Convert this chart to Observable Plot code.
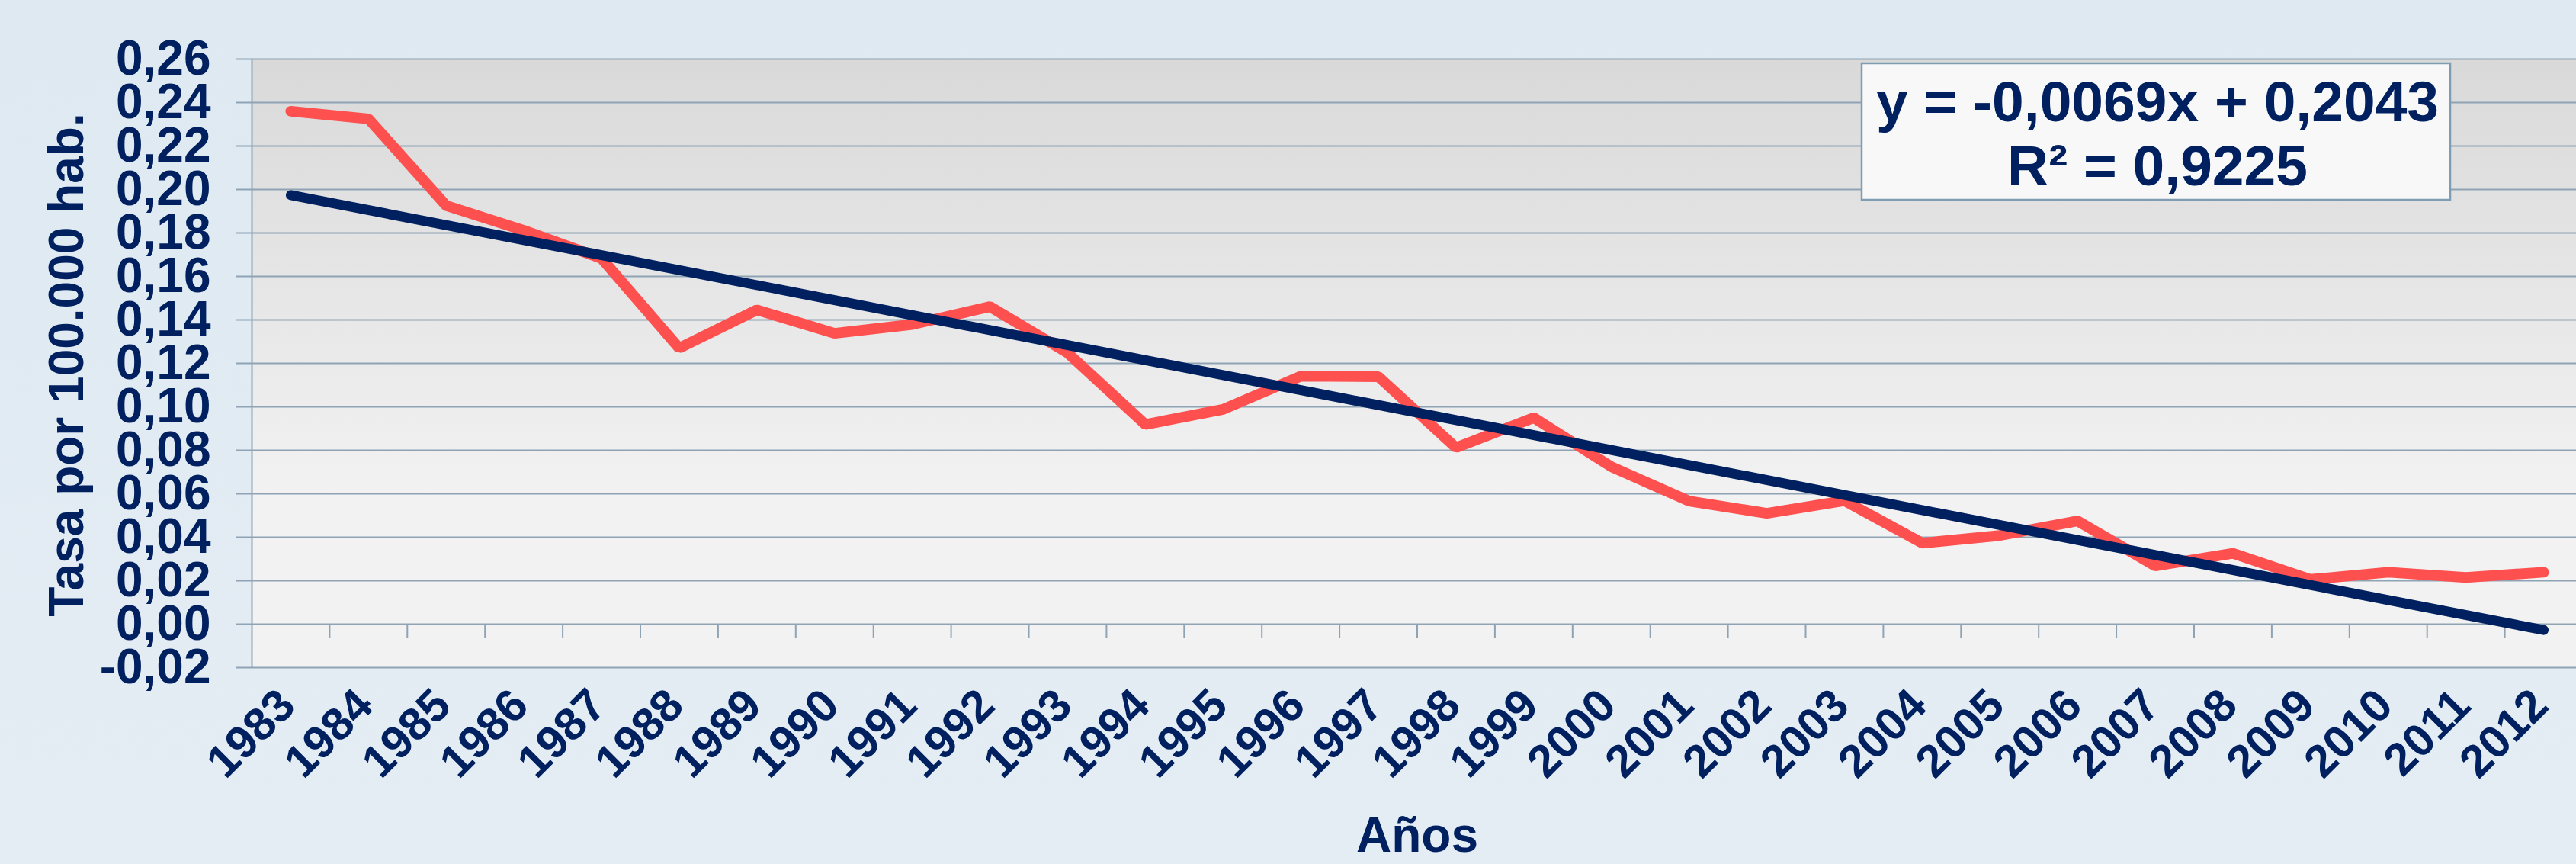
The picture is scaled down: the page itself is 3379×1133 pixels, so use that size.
<!DOCTYPE html>
<html>
<head>
<meta charset="utf-8">
<script src="https://cdn.jsdelivr.net/npm/d3@7"></script>
<script src="https://cdn.jsdelivr.net/npm/@observablehq/plot@0.6"></script>
<style>
html, body { margin: 0; padding: 0; width: 3379px; height: 1133px; overflow: hidden;
  background: linear-gradient(to bottom, #dee9f1, #e5edf4); }
#chart svg { display: block; background: transparent; }
</style>
</head>
<body>
<div id="chart"></div>
<script>
// ---- data ----
const years = [1983, 1984, 1985, 1986, 1987, 1988, 1989, 1990, 1991, 1992,
               1993, 1994, 1995, 1996, 1997, 1998, 1999, 2000, 2001, 2002,
               2003, 2004, 2005, 2006, 2007, 2008, 2009, 2010, 2011, 2012];
const rates = [0.2360, 0.2325, 0.1926, 0.1812, 0.1683, 0.1270, 0.1446, 0.1338, 0.1379, 0.1461,
               0.1248, 0.0919, 0.0988, 0.1141, 0.1139, 0.0812, 0.0950, 0.0724, 0.0566, 0.0510,
               0.0568, 0.0373, 0.0408, 0.0475, 0.0268, 0.0326, 0.0206, 0.0239, 0.0215, 0.0239];
const trendYears = [1983, 2012];
const trendRates = [0.1974, -0.0027];
const yTicks = [-0.02, 0, 0.02, 0.04, 0.06, 0.08, 0.10, 0.12, 0.14, 0.16, 0.18, 0.20, 0.22, 0.24, 0.26];
const equationLines = ["y = -0,0069x + 0,2043", "R² = 0,9225"];
const yTitle = "Tasa por 100.000 hab.";
const xTitle = "Años";

// ---- style ----
const navy = "#002060", red = "#ff5050", gridColor = "#8fa3b5";
const font = "'Liberation Sans', Arial, sans-serif";
const fmt = d => d.toFixed(2).replace(".", ",");

const series = years.map((year, i) => ({year, rate: rates[i]}));
const trend = trendYears.map((year, i) => ({year, rate: trendRates[i]}));
const boundaries = years.map(y => y + 0.5);

const W = 3379, H = 1133;
const plot = Plot.plot({
  width: W, height: H,
  marginTop: 77, marginBottom: 258, marginLeft: 330, marginRight: -8,
  style: {background: "transparent", fontFamily: font, overflow: "hidden"},
  x: {type: "linear", domain: [years[0] - 0.5, years[years.length - 1] + 0.5], axis: null},
  y: {domain: [yTicks[0], yTicks[yTicks.length - 1]], axis: null},
  marks: [
    Plot.frame({fill: "url(#plotBg)", stroke: "none"}),
    Plot.ruleY(yTicks, {stroke: gridColor, strokeWidth: 2, insetLeft: -20}),
    Plot.ruleX([years[0] - 0.5], {stroke: gridColor, strokeWidth: 2}),
    Plot.ruleX(boundaries, {x: d => d, y1: 0, y2: yTicks[0], insetBottom: 38, stroke: gridColor, strokeWidth: 2}),
    Plot.text(yTicks, {y: d => d, text: fmt, frameAnchor: "left", textAnchor: "end", lineAnchor: "middle",
      dx: -54, fontSize: 64, fontWeight: "bold", fill: navy}),
    Plot.text(years, {x: d => d, text: d => String(d), frameAnchor: "bottom", rotate: -45,
      textAnchor: "end", lineAnchor: "bottom", dx: 9, dy: 53, fontSize: 60, fontWeight: "bold", fill: navy}),
    Plot.text([yTitle], {frameAnchor: "left", rotate: -90, textAnchor: "middle", lineAnchor: "bottom",
      dx: -222, dy: 2, fontSize: 64, fontWeight: "bold", fill: navy}),
    Plot.text([xTitle], {frameAnchor: "bottom", lineAnchor: "bottom", dy: 241,
      fontSize: 64, fontWeight: "bold", fill: navy}),
    Plot.line(series, {x: "year", y: "rate", stroke: red, strokeWidth: 14,
      strokeLinejoin: "miter", strokeLinecap: "round"}),
    Plot.line(trend, {x: "year", y: "rate", stroke: navy, strokeWidth: 13, strokeLinecap: "round"})
  ]
});

const svg = d3.select(plot);
const defs = svg.insert("defs", ":first-child");
const grad = defs.append("linearGradient").attr("id", "plotBg")
  .attr("x1", 0).attr("y1", 0).attr("x2", 0).attr("y2", 1);
grad.append("stop").attr("offset", "0%").attr("stop-color", "#d9d9d9");
grad.append("stop").attr("offset", "72%").attr("stop-color", "#f2f2f2");
grad.append("stop").attr("offset", "100%").attr("stop-color", "#f2f2f2");

// equation box (trendline label)
const box = svg.append("g");
box.append("rect").attr("x", 2442).attr("y", 83).attr("width", 772).attr("height", 179)
  .attr("fill", "#f8f8f8").attr("stroke", "#7f9db2").attr("stroke-width", 2.5);
box.selectAll("text").data(equationLines).join("text")
  .attr("x", 2830).attr("y", (d, i) => 159 + i * 84)
  .attr("text-anchor", "middle")
  .attr("font-family", font).attr("font-weight", "bold").attr("font-size", 75)
  .attr("fill", navy).text(d => d);

document.getElementById("chart").appendChild(plot);
</script>
</body>
</html>
